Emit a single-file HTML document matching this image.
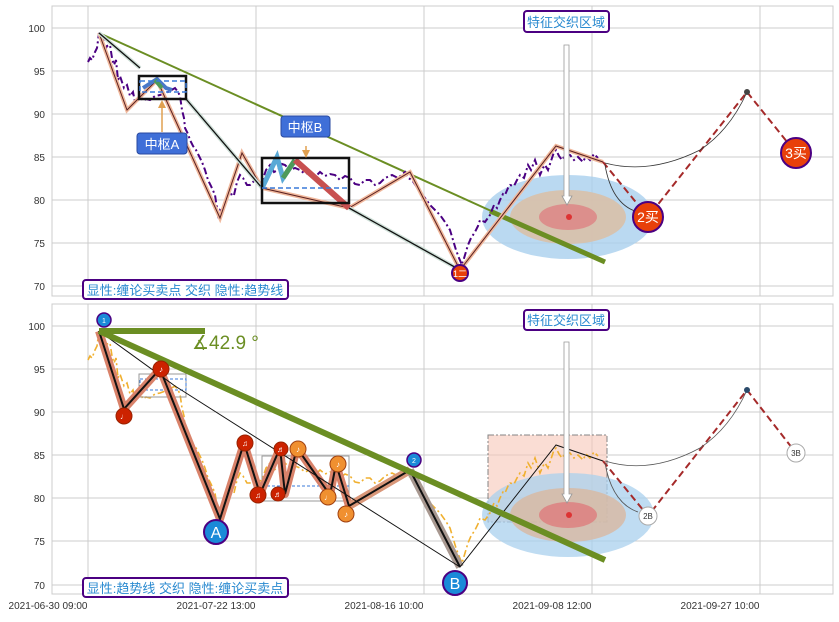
<!DOCTYPE html>
<html><head><meta charset="utf-8"><style>
body{margin:0;background:#fff;}
svg text{font-family:"Liberation Sans","Noto Sans CJK SC",sans-serif;}
</style></head><body>
<svg width="839" height="617" viewBox="0 0 839 617" xmlns="http://www.w3.org/2000/svg">
<rect width="839" height="617" fill="#fff"/>
<g stroke="#cccccc" stroke-width="1" fill="none">
<rect x="52" y="6" width="781" height="290"/>
<rect x="52" y="304" width="781" height="290"/>
<path d="M52 28H833M52 71H833M52 114H833M52 157H833M52 200H833M52 243H833M52 286H833"/>
<path d="M52 326H833M52 369H833M52 412H833M52 455H833M52 498H833M52 541H833M52 585H833"/>
<path d="M88 6V296M256 6V296M424 6V296M592 6V296M760 6V296"/>
<path d="M88 304V594M256 304V594M424 304V594M592 304V594M760 304V594"/>
</g>
<g font-size="10" fill="#333" text-anchor="end">
<text x="45" y="32">100</text><text x="45" y="75">95</text><text x="45" y="118">90</text><text x="45" y="161">85</text><text x="45" y="204">80</text><text x="45" y="247">75</text><text x="45" y="290">70</text>
<text x="45" y="330">100</text><text x="45" y="373">95</text><text x="45" y="416">90</text><text x="45" y="459">85</text><text x="45" y="502">80</text><text x="45" y="545">75</text><text x="45" y="589">70</text>
</g>
<g font-size="10" fill="#333" text-anchor="middle">
<text x="48" y="609">2021-06-30 09:00</text><text x="216" y="609">2021-07-22 13:00</text><text x="384" y="609">2021-08-16 10:00</text><text x="552" y="609">2021-09-08 12:00</text><text x="720" y="609">2021-09-27 10:00</text>
</g>

<defs>
<path id="pr" d="M88 62L90 58L92 60L95 52L97 48L99 33L101 42L103 38L105 50L107 46L110 45L112 58L114 65L116 60L118 80L120 76L124 88L127 85L130 96L133 92L135 102L138 98L140 95L143 101L146 99L150 100L155 96L160 95L168 92L175 88L178 92L180 96L182 110L184 118L185 128L188 134L190 140L193 146L196 150L199 156L202 162L205 170L208 180L211 186L215 195L218 215L220 210L222 212L226 200L230 190L232 196L234 195L237 182L240 175L243 178L247 185L250 185L255 180L258 184L262 182L266 170L270 165L274 172L278 170L282 164L285 165L290 170L295 168L300 170L305 174L310 172L315 177L320 172L325 176L330 174L335 175L340 180L345 176L350 178L355 184L360 185L365 180L370 180L375 185L380 183L385 178L392 175L398 178L405 172L408 178L412 180L416 186L420 192L425 198L430 205L435 210L440 215L445 222L450 230L453 240L456 250L459 258L462 265L465 255L468 245L471 238L475 232L478 226L480 220L485 222L490 215L494 205L497 208L500 200L503 194L505 195L508 188L510 185L514 186L517 180L520 175L524 178L528 165L531 170L535 160L537 166L540 175L543 168L545 165L548 170L552 158L554 152L556 150L559 156L562 160L566 154L570 155L574 160L578 157L583 162L586 156L590 160L594 154L598 158"/>
</defs>

<!-- TOP PANEL -->
<ellipse cx="568" cy="217" rx="86" ry="42" fill="#a9d0ee" opacity="0.8"/>
<ellipse cx="568" cy="217" rx="58" ry="27" fill="#d9c0a8" opacity="0.9"/>
<ellipse cx="568" cy="217" rx="29" ry="13" fill="#dd8a88" opacity="0.9"/>
<circle cx="569" cy="217" r="3" fill="#d33"/>
<path d="M99 33L500 215" stroke="#6b8e23" stroke-width="2" fill="none"/>
<path d="M490 211L605 262" stroke="#6b8e23" stroke-width="5" fill="none"/>
<use href="#pr" stroke="#4b0082" stroke-width="2" stroke-dasharray="7,3,2,3" fill="none"/>
<path d="M99 33L127 110L157 80L220 218L242 153L262 188L349 208L410 172L460 270L556 146L603 162" stroke="#f0b89c" stroke-width="4" fill="none"/>
<path d="M99 33L127 110L157 80L220 218L242 153L262 188L349 208L410 172L460 270L556 146L603 162" stroke="#5a2020" stroke-width="1" fill="none"/>
<path d="M99 33L140 68M186 99L262 188M349 208L460 270" stroke="#cfe0d8" stroke-width="4" fill="none"/>
<path d="M99 33L140 68M186 99L262 188M349 208L460 270" stroke="#111" stroke-width="1.3" fill="none"/>
<path d="M143 88L157 79L166 88L172 90" stroke="#4a78c8" stroke-width="4" fill="none"/>
<path d="M155 80L162 88" stroke="#4e9a5a" stroke-width="4"/>
<path d="M262 188L277 157L283 178L295 160" stroke="#5aa9d6" stroke-width="5" fill="none"/>
<path d="M283 178L295 160" stroke="#4e9a5a" stroke-width="5"/>
<path d="M295 160L349 208" stroke="#c85050" stroke-width="6"/>
<rect x="139" y="76" width="47" height="23" fill="none" stroke="#111" stroke-width="2.5"/>
<rect x="140" y="81" width="46" height="11" fill="none" stroke="#3a7ad8" stroke-width="1.5" stroke-dasharray="5,3"/>
<rect x="262" y="158" width="87" height="45" fill="none" stroke="#111" stroke-width="2.5"/>
<path d="M262 188H349" stroke="#3a7ad8" stroke-width="1.5" stroke-dasharray="5,3"/>
<path d="M603 162L648 217L747 92L796 153" stroke="#a52a2a" stroke-width="2" stroke-dasharray="7,4" fill="none"/>
<path d="M605 163Q650 175 700 150Q730 130 747 92" stroke="#333" stroke-width="0.8" fill="none"/>
<path d="M605 165Q612 205 638 212" stroke="#333" stroke-width="0.8" fill="none"/>
<circle cx="747" cy="92" r="3" fill="#444"/>
<path d="M162 132V104M306 146V157" stroke="#e0a050" stroke-width="1.5"/>
<path d="M158 108L162 100L166 108ZM302 150L306 158L310 150Z" fill="#e0a050"/>
<rect x="137" y="133" width="50" height="21" rx="3" fill="#3f6fd8" stroke="#2a4aa0"/>
<text x="162" y="149" font-size="13" fill="#fff" text-anchor="middle">中枢A</text>
<rect x="281" y="116" width="49" height="21" rx="3" fill="#3f6fd8" stroke="#2a4aa0"/>
<text x="305" y="132" font-size="13" fill="#fff" text-anchor="middle">中枢B</text>
<rect x="524" y="11" width="85" height="21" rx="3" fill="#fff" stroke="#4b0082" stroke-width="2"/>
<text x="566" y="27" font-size="13" fill="#2a8ad0" text-anchor="middle">特征交织区域</text>
<path d="M564 45H569V196H572L567 205L562 196H564Z" fill="#fff" stroke="#999" stroke-width="0.8"/>
<rect x="83" y="280" width="205" height="19" rx="3" fill="#fff" stroke="#4b0082" stroke-width="2"/>
<text x="185" y="295" font-size="13" fill="#2a8ad0" text-anchor="middle">显性:缠论买卖点 交织 隐性:趋势线</text>
<circle cx="460" cy="273" r="8" fill="#e8400a" stroke="#4b0082" stroke-width="2"/>
<text x="460" y="277" font-size="9" fill="#fff" text-anchor="middle">1二</text>
<circle cx="648" cy="217" r="15" fill="#e8400a" stroke="#4b0082" stroke-width="2"/>
<text x="648" y="222" font-size="14" fill="#fff" text-anchor="middle">2买</text>
<circle cx="796" cy="153" r="15" fill="#e8400a" stroke="#4b0082" stroke-width="2"/>
<text x="796" y="158" font-size="14" fill="#fff" text-anchor="middle">3买</text>

<!-- BOTTOM PANEL -->
<rect x="488" y="435" width="119" height="87" fill="#f8c8b8" opacity="0.6" stroke="#333" stroke-dasharray="6,2,2,2"/>
<ellipse cx="568" cy="515" rx="86" ry="42" fill="#a9d0ee" opacity="0.75"/>
<ellipse cx="568" cy="515" rx="58" ry="27" fill="#d9b8a0" opacity="0.8"/>
<ellipse cx="568" cy="515" rx="29" ry="13" fill="#dd8080" opacity="0.85"/>
<circle cx="569" cy="515" r="3" fill="#d33"/>
<use href="#pr" transform="translate(0,298)" stroke="#f0b030" stroke-width="1.6" stroke-dasharray="7,3,2,3" fill="none"/>
<rect x="139" y="374" width="47" height="23" fill="none" stroke="#999" stroke-width="1"/>
<rect x="140" y="379" width="46" height="11" fill="none" stroke="#3a7ad8" stroke-width="1" stroke-dasharray="3,2"/>
<rect x="262" y="456" width="87" height="45" fill="none" stroke="#999" stroke-width="1"/>
<path d="M262 486H349" stroke="#3a7ad8" stroke-dasharray="3,2"/>
<path d="M99 331L124 409L160 369L220 519L244 443L260 494L280 448L285 494L297 448L330 495L336 464L349 506L410 470" stroke="#d9826a" stroke-width="8" fill="none" stroke-linejoin="round"/>
<path d="M349 506L410 470" stroke="#d9a080" stroke-width="8" opacity="0.7"/>
<path d="M410 470L460 567" stroke="#a89890" stroke-width="8"/>
<path d="M99 331L124 409L160 369L220 519L244 443L260 494L280 448L285 494L297 448L330 495L336 464L349 506L410 470L460 567" stroke="#111" stroke-width="2" fill="none"/>
<path d="M99 331L175 386M175 386L460 567L556 445L603 461" stroke="#111" stroke-width="1" fill="none"/>
<path d="M99 331L605 560" stroke="#6b8e23" stroke-width="6"/>
<path d="M99 331H205" stroke="#6b8e23" stroke-width="6"/>
<text x="192" y="349" font-size="19" fill="#6b8e23">∡42.9 °</text>
<path d="M603 461L648 516L747 390L796 453" stroke="#a52a2a" stroke-width="2" stroke-dasharray="7,4" fill="none"/>
<path d="M605 461Q650 475 700 448Q730 428 747 390" stroke="#555" stroke-width="0.8" fill="none"/>
<path d="M605 463Q612 503 638 512" stroke="#555" stroke-width="0.8" fill="none"/>
<circle cx="747" cy="390" r="3" fill="#2a4a6a"/>
<rect x="524" y="310" width="85" height="20" rx="3" fill="#fff" stroke="#4b0082" stroke-width="2"/>
<text x="566" y="325" font-size="13" fill="#2a8ad0" text-anchor="middle">特征交织区域</text>
<path d="M564 342H569V494H572L567 503L562 494H564Z" fill="#fff" stroke="#999" stroke-width="0.8"/>
<rect x="83" y="578" width="205" height="19" rx="3" fill="#fff" stroke="#4b0082" stroke-width="2"/>
<text x="185" y="593" font-size="13" fill="#2a8ad0" text-anchor="middle">显性:趋势线 交织 隐性:缠论买卖点</text>
<g font-size="8" fill="#fff" text-anchor="middle">
<circle cx="124" cy="416" r="8" fill="#cc2200" stroke="#992200"/><text x="124" y="419">♩</text>
<circle cx="161" cy="369" r="8" fill="#cc2200" stroke="#992200"/><text x="161" y="372">♪</text>
<circle cx="245" cy="443" r="8" fill="#cc2200" stroke="#992200"/><text x="245" y="446">♫</text>
<circle cx="258" cy="495" r="8" fill="#cc2200" stroke="#992200"/><text x="258" y="498">♫</text>
<circle cx="281" cy="449" r="7" fill="#cc2200" stroke="#992200"/><text x="281" y="452">♬</text>
<circle cx="278" cy="494" r="7" fill="#cc2200" stroke="#992200"/><text x="278" y="497">♬</text>
<circle cx="298" cy="449" r="8" fill="#f09030" stroke="#a04010"/><text x="298" y="452">♪</text>
<circle cx="328" cy="497" r="8" fill="#f09030" stroke="#a04010"/><text x="328" y="500">♩</text>
<circle cx="338" cy="464" r="8" fill="#f09030" stroke="#a04010"/><text x="338" y="467">♪</text>
<circle cx="346" cy="514" r="8" fill="#f09030" stroke="#a04010"/><text x="346" y="517">♪</text>
<circle cx="104" cy="320" r="7" fill="#1a8ad8" stroke="#4b0082" stroke-width="1.5"/><text x="104" y="323" font-size="7">1</text>
<circle cx="414" cy="460" r="7" fill="#1a8ad8" stroke="#4b0082" stroke-width="1.5"/><text x="414" y="463" font-size="7">2</text>
</g>
<circle cx="216" cy="532" r="12" fill="#1a8ad8" stroke="#4b0082" stroke-width="2"/>
<text x="216" y="538" font-size="16" fill="#fff" text-anchor="middle">A</text>
<circle cx="455" cy="583" r="12" fill="#1a8ad8" stroke="#4b0082" stroke-width="2"/>
<text x="455" y="589" font-size="16" fill="#fff" text-anchor="middle">B</text>
<circle cx="648" cy="516" r="9" fill="#fff" stroke="#aaa"/>
<text x="648" y="519" font-size="8" fill="#333" text-anchor="middle">2B</text>
<circle cx="796" cy="453" r="9" fill="#fff" stroke="#aaa"/>
<text x="796" y="456" font-size="8" fill="#333" text-anchor="middle">3B</text>
</svg>
</body></html>
